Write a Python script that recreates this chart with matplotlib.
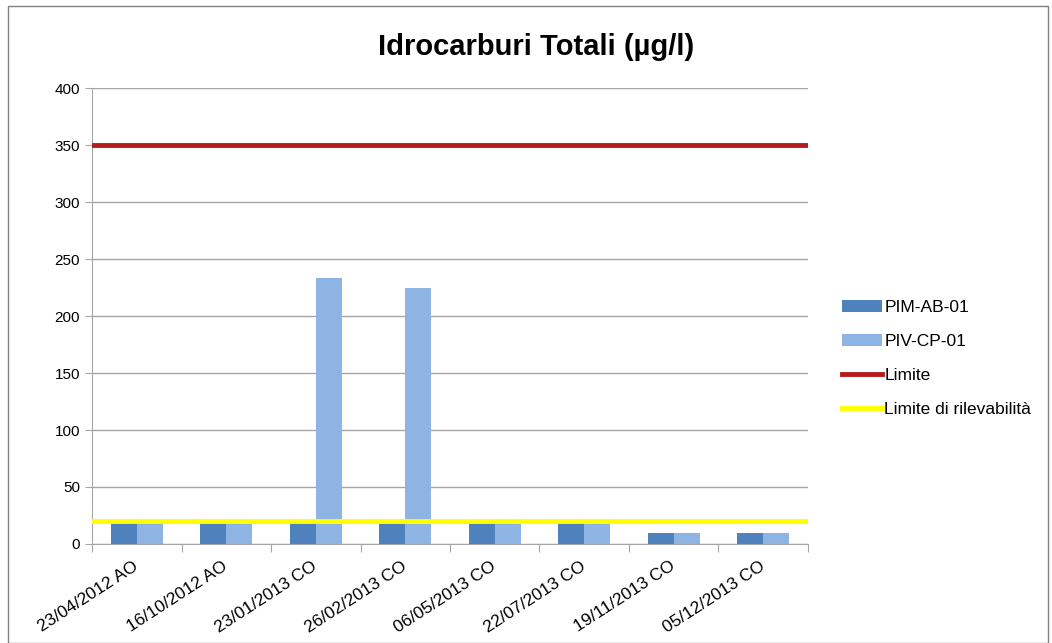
import numpy as np
import matplotlib.pyplot as plt
from matplotlib.patches import Rectangle

plt.rcParams['font.family'] = ['Liberation Sans', 'DejaVu Sans']

# data
dates = ['23/04/2012 AO', '16/10/2012 AO', '23/01/2013 CO', '26/02/2013 CO',
         '06/05/2013 CO', '22/07/2013 CO', '19/11/2013 CO', '05/12/2013 CO']
pim_ab_01 = [19, 19, 19, 19, 19, 19, 10, 10]
piv_cp_01 = [19, 19, 233, 225, 19, 19, 10, 10]
limite = 350
limite_ril = 20

fig = plt.figure(figsize=(10.52, 6.43), dpi=100)
ax = fig.add_axes([0.0875, 0.154, 0.6805, 0.709])

x = np.arange(len(dates))
w = 0.29
b1 = ax.bar(x - w / 2, pim_ab_01, w, color='#4F81BD', label='PIM-AB-01', zorder=2)
b2 = ax.bar(x + w / 2, piv_cp_01, w, color='#8EB4E3', label='PIV-CP-01', zorder=2)
l1 = ax.axhline(limite, color='#B71C1C', lw=3.5, label='Limite', zorder=3)
l2 = ax.axhline(limite_ril, color='#FFFF00', lw=3.5, label='Limite di rilevabilità', zorder=3)

ax.set_xlim(-0.5, len(dates) - 0.5)
ax.set_ylim(0, 400)
ax.set_yticks(np.arange(0, 401, 50))
ax.yaxis.grid(True, color='#A6A6A6', lw=1, zorder=0)
ax.tick_params(axis='y', length=5, color='#A6A6A6', labelsize=11)

ax.set_xticks(np.arange(len(dates) + 1) - 0.5, minor=False)
ax.set_xticklabels([])
ax.set_xticks(x, minor=True)
ax.set_xticklabels(dates, minor=True, rotation=33, ha='right', va='center',
                   rotation_mode='anchor', fontsize=12.5)
ax.tick_params(axis='x', which='major', length=6, color='#A6A6A6')
ax.tick_params(axis='x', which='minor', length=0, pad=15)

for side in ['top', 'right']:
    ax.spines[side].set_visible(False)
for side in ['left', 'bottom']:
    ax.spines[side].set_color('#A6A6A6')

fig.text(0.5095, 0.927, 'Idrocarburi Totali (µg/l)', ha='center', va='center',
         fontsize=21, fontweight='bold')

handles = [b1, b2, l1, l2]
fig.legend(handles, [h.get_label() for h in handles],
           loc='center left', bbox_to_anchor=(0.786, 0.443), frameon=False,
           fontsize=12.5, handlelength=2.3, handletextpad=0.1, labelspacing=1.08)

fig.patches.append(Rectangle((8 / 1052, 0), 1040 / 1052, 637 / 643,
                             transform=fig.transFigure, fill=False,
                             edgecolor='#808080', lw=1))

fig.savefig('out.png', dpi=100)
